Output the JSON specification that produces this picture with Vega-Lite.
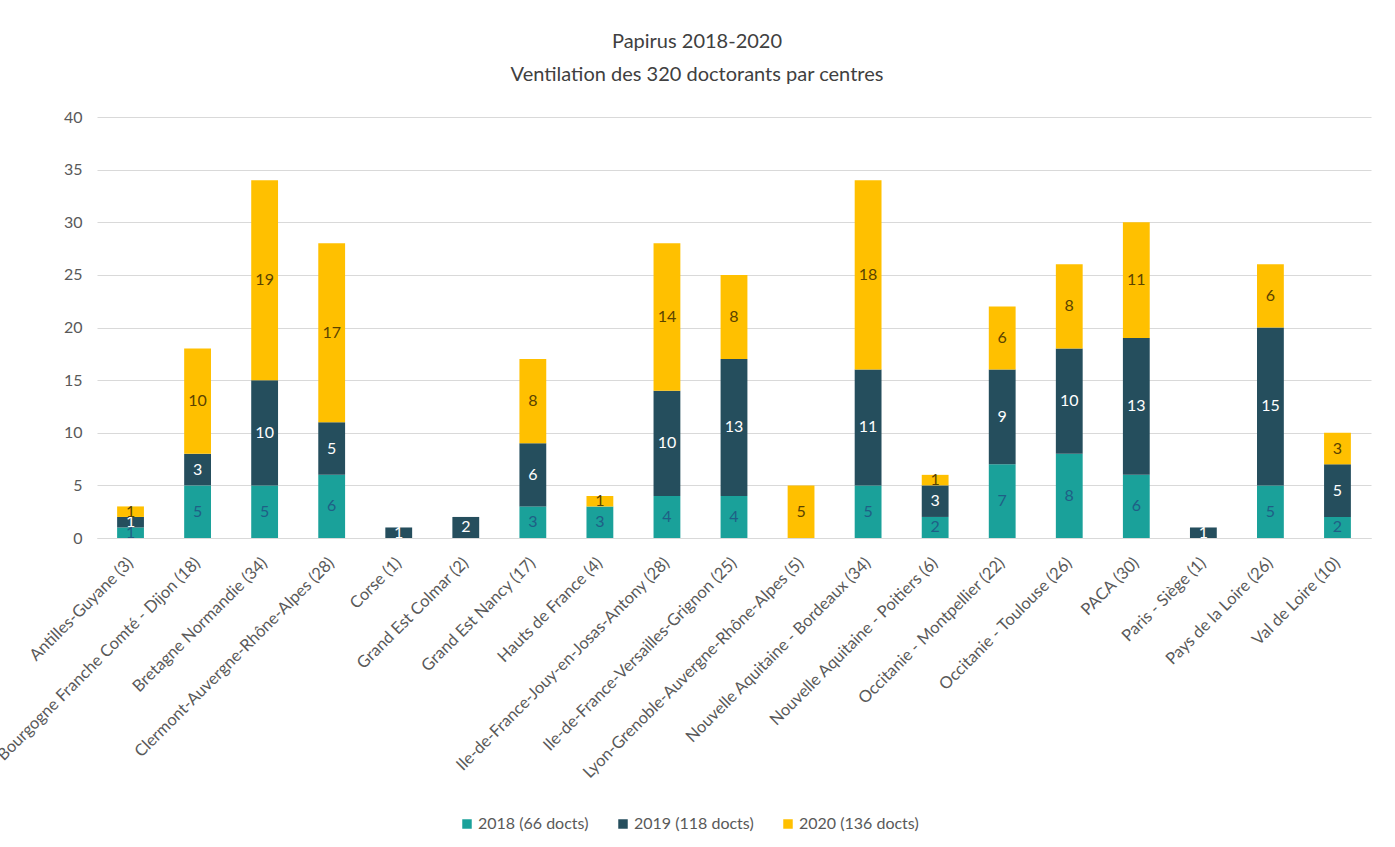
{
  "$schema": "https://vega.github.io/schema/vega-lite/v6.json",
  "autosize": {"type": "none"},
  "padding": {"left": 97, "top": 117, "right": 24, "bottom": 309},
  "width": 1274,
  "height": 421,
  "background": "white",
  "title": {
    "text": ["Papirus 2018-2020", "Ventilation des 320 doctorants par centres"],
    "anchor": "middle",
    "dx": -37,
    "offset": 24,
    "fontSize": 20,
    "fontWeight": "normal",
    "font": "Lato, sans-serif",
    "color": "#404040",
    "lineHeight": 33
  },
  "data": {
    "values": [
      {"centre": "Antilles-Guyane (3)", "year": "2018", "serie": "2018 (66 docts)", "n": 1},
      {"centre": "Antilles-Guyane (3)", "year": "2019", "serie": "2019 (118 docts)", "n": 1},
      {"centre": "Antilles-Guyane (3)", "year": "2020", "serie": "2020 (136 docts)", "n": 1},
      {"centre": "Bourgogne Franche Comté - Dijon (18)", "year": "2018", "serie": "2018 (66 docts)", "n": 5},
      {"centre": "Bourgogne Franche Comté - Dijon (18)", "year": "2019", "serie": "2019 (118 docts)", "n": 3},
      {"centre": "Bourgogne Franche Comté - Dijon (18)", "year": "2020", "serie": "2020 (136 docts)", "n": 10},
      {"centre": "Bretagne Normandie (34)", "year": "2018", "serie": "2018 (66 docts)", "n": 5},
      {"centre": "Bretagne Normandie (34)", "year": "2019", "serie": "2019 (118 docts)", "n": 10},
      {"centre": "Bretagne Normandie (34)", "year": "2020", "serie": "2020 (136 docts)", "n": 19},
      {"centre": "Clermont-Auvergne-Rhône-Alpes (28)", "year": "2018", "serie": "2018 (66 docts)", "n": 6},
      {"centre": "Clermont-Auvergne-Rhône-Alpes (28)", "year": "2019", "serie": "2019 (118 docts)", "n": 5},
      {"centre": "Clermont-Auvergne-Rhône-Alpes (28)", "year": "2020", "serie": "2020 (136 docts)", "n": 17},
      {"centre": "Corse (1)", "year": "2019", "serie": "2019 (118 docts)", "n": 1},
      {"centre": "Grand Est Colmar (2)", "year": "2019", "serie": "2019 (118 docts)", "n": 2},
      {"centre": "Grand Est Nancy (17)", "year": "2018", "serie": "2018 (66 docts)", "n": 3},
      {"centre": "Grand Est Nancy (17)", "year": "2019", "serie": "2019 (118 docts)", "n": 6},
      {"centre": "Grand Est Nancy (17)", "year": "2020", "serie": "2020 (136 docts)", "n": 8},
      {"centre": "Hauts de France (4)", "year": "2018", "serie": "2018 (66 docts)", "n": 3},
      {"centre": "Hauts de France (4)", "year": "2020", "serie": "2020 (136 docts)", "n": 1},
      {"centre": "Ile-de-France-Jouy-en-Josas-Antony (28)", "year": "2018", "serie": "2018 (66 docts)", "n": 4},
      {"centre": "Ile-de-France-Jouy-en-Josas-Antony (28)", "year": "2019", "serie": "2019 (118 docts)", "n": 10},
      {"centre": "Ile-de-France-Jouy-en-Josas-Antony (28)", "year": "2020", "serie": "2020 (136 docts)", "n": 14},
      {"centre": "Ile-de-France-Versailles-Grignon (25)", "year": "2018", "serie": "2018 (66 docts)", "n": 4},
      {"centre": "Ile-de-France-Versailles-Grignon (25)", "year": "2019", "serie": "2019 (118 docts)", "n": 13},
      {"centre": "Ile-de-France-Versailles-Grignon (25)", "year": "2020", "serie": "2020 (136 docts)", "n": 8},
      {"centre": "Lyon-Grenoble-Auvergne-Rhône-Alpes (5)", "year": "2020", "serie": "2020 (136 docts)", "n": 5},
      {"centre": "Nouvelle Aquitaine - Bordeaux (34)", "year": "2018", "serie": "2018 (66 docts)", "n": 5},
      {"centre": "Nouvelle Aquitaine - Bordeaux (34)", "year": "2019", "serie": "2019 (118 docts)", "n": 11},
      {"centre": "Nouvelle Aquitaine - Bordeaux (34)", "year": "2020", "serie": "2020 (136 docts)", "n": 18},
      {"centre": "Nouvelle Aquitaine - Poitiers (6)", "year": "2018", "serie": "2018 (66 docts)", "n": 2},
      {"centre": "Nouvelle Aquitaine - Poitiers (6)", "year": "2019", "serie": "2019 (118 docts)", "n": 3},
      {"centre": "Nouvelle Aquitaine - Poitiers (6)", "year": "2020", "serie": "2020 (136 docts)", "n": 1},
      {"centre": "Occitanie - Montpellier (22)", "year": "2018", "serie": "2018 (66 docts)", "n": 7},
      {"centre": "Occitanie - Montpellier (22)", "year": "2019", "serie": "2019 (118 docts)", "n": 9},
      {"centre": "Occitanie - Montpellier (22)", "year": "2020", "serie": "2020 (136 docts)", "n": 6},
      {"centre": "Occitanie - Toulouse (26)", "year": "2018", "serie": "2018 (66 docts)", "n": 8},
      {"centre": "Occitanie - Toulouse (26)", "year": "2019", "serie": "2019 (118 docts)", "n": 10},
      {"centre": "Occitanie - Toulouse (26)", "year": "2020", "serie": "2020 (136 docts)", "n": 8},
      {"centre": "PACA (30)", "year": "2018", "serie": "2018 (66 docts)", "n": 6},
      {"centre": "PACA (30)", "year": "2019", "serie": "2019 (118 docts)", "n": 13},
      {"centre": "PACA (30)", "year": "2020", "serie": "2020 (136 docts)", "n": 11},
      {"centre": "Paris - Siège (1)", "year": "2019", "serie": "2019 (118 docts)", "n": 1},
      {"centre": "Pays de la Loire (26)", "year": "2018", "serie": "2018 (66 docts)", "n": 5},
      {"centre": "Pays de la Loire (26)", "year": "2019", "serie": "2019 (118 docts)", "n": 15},
      {"centre": "Pays de la Loire (26)", "year": "2020", "serie": "2020 (136 docts)", "n": 6},
      {"centre": "Val de Loire (10)", "year": "2018", "serie": "2018 (66 docts)", "n": 2},
      {"centre": "Val de Loire (10)", "year": "2019", "serie": "2019 (118 docts)", "n": 5},
      {"centre": "Val de Loire (10)", "year": "2020", "serie": "2020 (136 docts)", "n": 3}
    ]
  },
  "encoding": {
    "x": {
      "field": "centre",
      "type": "nominal",
      "sort": null,
      "scale": {"paddingInner": 0.6, "paddingOuter": 0.3},
      "axis": {
        "title": null,
        "labelAngle": -45,
        "labelAlign": "right",
        "labelBaseline": "middle",
        "labelPadding": 22,
        "labelFontSize": 16.5,
        "labelFont": "Lato, sans-serif",
        "labelColor": "#595959",
        "labelLimit": 400,
        "labelOverlap": false,
        "ticks": false,
        "domainColor": "#d9d9d9",
        "domainWidth": 1,
        "grid": false
      }
    },
    "y": {
      "field": "n",
      "type": "quantitative",
      "stack": "zero",
      "scale": {"domain": [0, 40], "nice": false},
      "axis": {
        "title": null,
        "values": [0, 5, 10, 15, 20, 25, 30, 35, 40],
        "labelFontSize": 16,
        "labelFont": "Lato, sans-serif",
        "labelColor": "#595959",
        "labelPadding": 15,
        "ticks": false,
        "domain": false,
        "gridColor": "#d9d9d9",
        "gridWidth": 1
      }
    }
  },
  "layer": [
    {
      "mark": {"type": "bar"},
      "encoding": {
        "color": {
          "field": "serie",
          "type": "nominal",
          "scale": {
            "domain": ["2018 (66 docts)", "2019 (118 docts)", "2020 (136 docts)"],
            "range": ["#1aa19a", "#254e5d", "#ffc000"]
          },
          "legend": {
            "title": null,
            "orient": "none",
            "direction": "horizontal",
            "legendX": 362,
            "legendY": 699,
            "symbolType": "square",
            "symbolSize": 90,
            "symbolStrokeWidth": 0,
            "labelFontSize": 16,
            "labelFont": "Lato, sans-serif",
            "labelColor": "#595959",
            "columnPadding": 26,
            "labelOffset": 3
          }
        },
        "order": {"field": "year", "type": "ordinal"}
      }
    },
    {
      "mark": {"type": "text", "fontSize": 16, "font": "Lato, sans-serif", "baseline": "middle"},
      "encoding": {
        "y": {"field": "n", "type": "quantitative", "stack": "zero", "bandPosition": 0.5},
        "detail": {"field": "serie", "type": "nominal"},
        "order": {"field": "year", "type": "ordinal"},
        "text": {"field": "n", "type": "quantitative"},
        "color": {
          "condition": [
            {"test": "datum.year === '2019'", "value": "#ffffff"},
            {"test": "datum.year === '2018'", "value": "#1f5f86"}
          ],
          "value": "#5a4300"
        }
      }
    }
  ],
  "config": {
    "view": {"stroke": null}
  }
}
